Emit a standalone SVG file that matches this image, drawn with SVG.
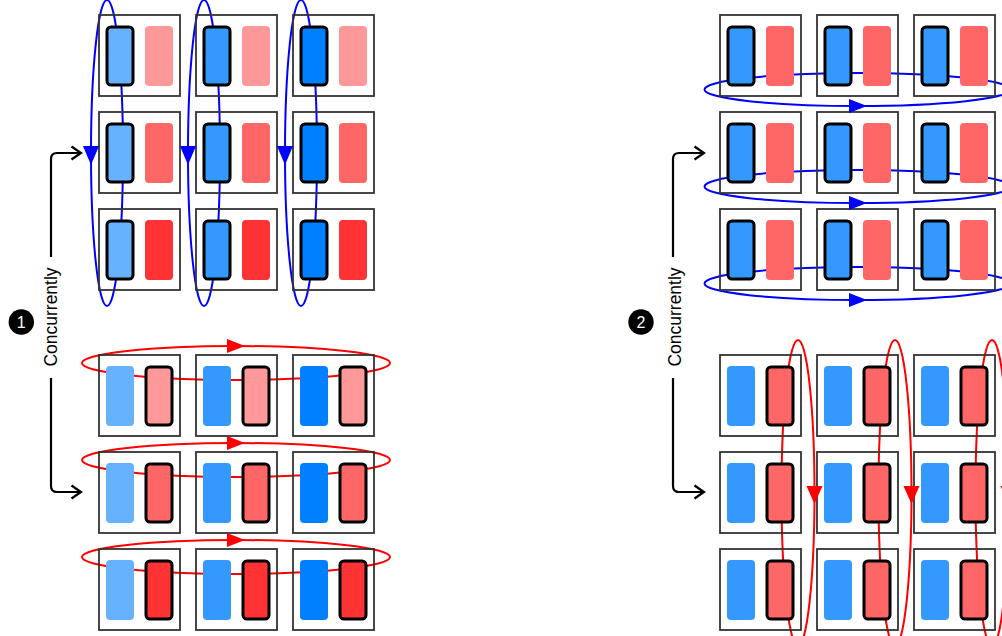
<svg xmlns="http://www.w3.org/2000/svg" width="1002" height="636" viewBox="0 0 1002 636">
<style>
.box{fill:none;stroke:#333;stroke-width:1.8}
.on{stroke:#000;stroke-width:3}
.b1{fill:#66B2FF}.b2{fill:#3399FF}.b3{fill:#007FFF}
.r1{fill:#FF9999}.r2{fill:#FF6666}.r3{fill:#FF3333}
.eb{fill:none;stroke:#0000FF;stroke-width:2}
.er{fill:none;stroke:#FF0000;stroke-width:2}
.ab{fill:#0000FF}.ar{fill:#FF0000}
.conn{fill:none;stroke:#000;stroke-width:2.2}
.lbl{font-family:"Liberation Sans",Arial,sans-serif;font-size:17.5px;fill:#000}
.num{font-family:"Liberation Sans",Arial,sans-serif;font-size:16px;fill:#fff}
</style>
<defs>
<marker id="open" markerWidth="14" markerHeight="16" refX="11" refY="8" orient="auto" markerUnits="userSpaceOnUse"><path d="M1.5,1.5 L11,8 L1.5,14.5" fill="none" stroke="#000" stroke-width="2.2"/></marker>
</defs>
<rect x="0" y="0" width="1002" height="636" fill="#fff"/>
<g id="connectors">
<ellipse class="eb" cx="107" cy="153" rx="16" ry="153"/>
<ellipse class="eb" cx="204" cy="153" rx="16" ry="153"/>
<ellipse class="eb" cx="301" cy="153" rx="16" ry="153"/>
<ellipse class="er" cx="236" cy="363" rx="154" ry="17"/>
<ellipse class="er" cx="236" cy="460" rx="154" ry="17"/>
<ellipse class="er" cx="236" cy="557" rx="154" ry="17"/>
<ellipse class="eb" cx="857.5" cy="89.5" rx="153" ry="16.5"/>
<ellipse class="eb" cx="857.5" cy="186.5" rx="153" ry="16.5"/>
<ellipse class="eb" cx="857.5" cy="283.5" rx="153" ry="16.5"/>
<ellipse class="er" cx="798" cy="493" rx="16.5" ry="153"/>
<ellipse class="er" cx="895" cy="493" rx="16.5" ry="153"/>
<ellipse class="er" cx="992" cy="493" rx="16.5" ry="153"/>
<path class="conn" d="M51,257 V159 Q51,153 57,153 H81" marker-end="url(#open)"/>
<path class="conn" d="M51,378 V486 Q51,492 57,492 H81" marker-end="url(#open)"/>
<path class="conn" d="M673,257 V159 Q673,153 679,153 H704" marker-end="url(#open)"/>
<path class="conn" d="M673,378 V486 Q673,492 679,492 H704" marker-end="url(#open)"/>
</g>
<g id="left-top">
<g id="lt-11"><rect class="box" x="99" y="15" width="81" height="81"/><rect class="b1 on" x="107" y="27" width="26" height="58" rx="4"/><rect class="r1" x="145" y="26" width="28" height="60" rx="4"/></g>
<g id="lt-12"><rect class="box" x="196" y="15" width="81" height="81"/><rect class="b2 on" x="204" y="27" width="26" height="58" rx="4"/><rect class="r1" x="242" y="26" width="28" height="60" rx="4"/></g>
<g id="lt-13"><rect class="box" x="293" y="15" width="81" height="81"/><rect class="b3 on" x="301" y="27" width="26" height="58" rx="4"/><rect class="r1" x="339" y="26" width="28" height="60" rx="4"/></g>
<g id="lt-21"><rect class="box" x="99" y="112" width="81" height="81"/><rect class="b1 on" x="107" y="124" width="26" height="58" rx="4"/><rect class="r2" x="145" y="123" width="28" height="60" rx="4"/></g>
<g id="lt-22"><rect class="box" x="196" y="112" width="81" height="81"/><rect class="b2 on" x="204" y="124" width="26" height="58" rx="4"/><rect class="r2" x="242" y="123" width="28" height="60" rx="4"/></g>
<g id="lt-23"><rect class="box" x="293" y="112" width="81" height="81"/><rect class="b3 on" x="301" y="124" width="26" height="58" rx="4"/><rect class="r2" x="339" y="123" width="28" height="60" rx="4"/></g>
<g id="lt-31"><rect class="box" x="99" y="209" width="81" height="81"/><rect class="b1 on" x="107" y="221" width="26" height="58" rx="4"/><rect class="r3" x="145" y="220" width="28" height="60" rx="4"/></g>
<g id="lt-32"><rect class="box" x="196" y="209" width="81" height="81"/><rect class="b2 on" x="204" y="221" width="26" height="58" rx="4"/><rect class="r3" x="242" y="220" width="28" height="60" rx="4"/></g>
<g id="lt-33"><rect class="box" x="293" y="209" width="81" height="81"/><rect class="b3 on" x="301" y="221" width="26" height="58" rx="4"/><rect class="r3" x="339" y="220" width="28" height="60" rx="4"/></g>
</g>
<g id="left-bottom">
<g id="lb-11"><rect class="box" x="99" y="355" width="81" height="81"/><rect class="b1" x="106" y="366" width="28" height="60" rx="4"/><rect class="r1 on" x="146" y="367" width="26" height="58" rx="4"/></g>
<g id="lb-12"><rect class="box" x="196" y="355" width="81" height="81"/><rect class="b2" x="203" y="366" width="28" height="60" rx="4"/><rect class="r1 on" x="243" y="367" width="26" height="58" rx="4"/></g>
<g id="lb-13"><rect class="box" x="293" y="355" width="81" height="81"/><rect class="b3" x="300" y="366" width="28" height="60" rx="4"/><rect class="r1 on" x="340" y="367" width="26" height="58" rx="4"/></g>
<g id="lb-21"><rect class="box" x="99" y="452" width="81" height="81"/><rect class="b1" x="106" y="463" width="28" height="60" rx="4"/><rect class="r2 on" x="146" y="464" width="26" height="58" rx="4"/></g>
<g id="lb-22"><rect class="box" x="196" y="452" width="81" height="81"/><rect class="b2" x="203" y="463" width="28" height="60" rx="4"/><rect class="r2 on" x="243" y="464" width="26" height="58" rx="4"/></g>
<g id="lb-23"><rect class="box" x="293" y="452" width="81" height="81"/><rect class="b3" x="300" y="463" width="28" height="60" rx="4"/><rect class="r2 on" x="340" y="464" width="26" height="58" rx="4"/></g>
<g id="lb-31"><rect class="box" x="99" y="549" width="81" height="81"/><rect class="b1" x="106" y="560" width="28" height="60" rx="4"/><rect class="r3 on" x="146" y="561" width="26" height="58" rx="4"/></g>
<g id="lb-32"><rect class="box" x="196" y="549" width="81" height="81"/><rect class="b2" x="203" y="560" width="28" height="60" rx="4"/><rect class="r3 on" x="243" y="561" width="26" height="58" rx="4"/></g>
<g id="lb-33"><rect class="box" x="293" y="549" width="81" height="81"/><rect class="b3" x="300" y="560" width="28" height="60" rx="4"/><rect class="r3 on" x="340" y="561" width="26" height="58" rx="4"/></g>
</g>
<g id="right-top">
<g id="rt-11"><rect class="box" x="720" y="15" width="81" height="81"/><rect class="b2 on" x="728" y="27" width="26" height="58" rx="4"/><rect class="r2" x="766" y="26" width="28" height="60" rx="4"/></g>
<g id="rt-12"><rect class="box" x="817" y="15" width="81" height="81"/><rect class="b2 on" x="825" y="27" width="26" height="58" rx="4"/><rect class="r2" x="863" y="26" width="28" height="60" rx="4"/></g>
<g id="rt-13"><rect class="box" x="914" y="15" width="81" height="81"/><rect class="b2 on" x="922" y="27" width="26" height="58" rx="4"/><rect class="r2" x="960" y="26" width="28" height="60" rx="4"/></g>
<g id="rt-21"><rect class="box" x="720" y="112" width="81" height="81"/><rect class="b2 on" x="728" y="124" width="26" height="58" rx="4"/><rect class="r2" x="766" y="123" width="28" height="60" rx="4"/></g>
<g id="rt-22"><rect class="box" x="817" y="112" width="81" height="81"/><rect class="b2 on" x="825" y="124" width="26" height="58" rx="4"/><rect class="r2" x="863" y="123" width="28" height="60" rx="4"/></g>
<g id="rt-23"><rect class="box" x="914" y="112" width="81" height="81"/><rect class="b2 on" x="922" y="124" width="26" height="58" rx="4"/><rect class="r2" x="960" y="123" width="28" height="60" rx="4"/></g>
<g id="rt-31"><rect class="box" x="720" y="209" width="81" height="81"/><rect class="b2 on" x="728" y="221" width="26" height="58" rx="4"/><rect class="r2" x="766" y="220" width="28" height="60" rx="4"/></g>
<g id="rt-32"><rect class="box" x="817" y="209" width="81" height="81"/><rect class="b2 on" x="825" y="221" width="26" height="58" rx="4"/><rect class="r2" x="863" y="220" width="28" height="60" rx="4"/></g>
<g id="rt-33"><rect class="box" x="914" y="209" width="81" height="81"/><rect class="b2 on" x="922" y="221" width="26" height="58" rx="4"/><rect class="r2" x="960" y="220" width="28" height="60" rx="4"/></g>
</g>
<g id="right-bottom">
<g id="rb-11"><rect class="box" x="720" y="355" width="81" height="81"/><rect class="b2" x="727" y="366" width="28" height="60" rx="4"/><rect class="r2 on" x="767" y="367" width="26" height="58" rx="4"/></g>
<g id="rb-12"><rect class="box" x="817" y="355" width="81" height="81"/><rect class="b2" x="824" y="366" width="28" height="60" rx="4"/><rect class="r2 on" x="864" y="367" width="26" height="58" rx="4"/></g>
<g id="rb-13"><rect class="box" x="914" y="355" width="81" height="81"/><rect class="b2" x="921" y="366" width="28" height="60" rx="4"/><rect class="r2 on" x="961" y="367" width="26" height="58" rx="4"/></g>
<g id="rb-21"><rect class="box" x="720" y="452" width="81" height="81"/><rect class="b2" x="727" y="463" width="28" height="60" rx="4"/><rect class="r2 on" x="767" y="464" width="26" height="58" rx="4"/></g>
<g id="rb-22"><rect class="box" x="817" y="452" width="81" height="81"/><rect class="b2" x="824" y="463" width="28" height="60" rx="4"/><rect class="r2 on" x="864" y="464" width="26" height="58" rx="4"/></g>
<g id="rb-23"><rect class="box" x="914" y="452" width="81" height="81"/><rect class="b2" x="921" y="463" width="28" height="60" rx="4"/><rect class="r2 on" x="961" y="464" width="26" height="58" rx="4"/></g>
<g id="rb-31"><rect class="box" x="720" y="549" width="81" height="81"/><rect class="b2" x="727" y="560" width="28" height="60" rx="4"/><rect class="r2 on" x="767" y="561" width="26" height="58" rx="4"/></g>
<g id="rb-32"><rect class="box" x="817" y="549" width="81" height="81"/><rect class="b2" x="824" y="560" width="28" height="60" rx="4"/><rect class="r2 on" x="864" y="561" width="26" height="58" rx="4"/></g>
<g id="rb-33"><rect class="box" x="914" y="549" width="81" height="81"/><rect class="b2" x="921" y="560" width="28" height="60" rx="4"/><rect class="r2 on" x="961" y="561" width="26" height="58" rx="4"/></g>
</g>
<g id="arrowheads">
<polygon class="ab" points="83,146 99,146 91,165"/>
<polygon class="ab" points="180,146 196,146 188,165"/>
<polygon class="ab" points="277,146 293,146 285,165"/>
<polygon class="ar" points="227,339 227,353 245,346"/>
<polygon class="ar" points="227,436 227,450 245,443"/>
<polygon class="ar" points="227,533 227,547 245,540"/>
<polygon class="ab" points="849,99 849,113 867,106"/>
<polygon class="ab" points="849,196 849,210 867,203"/>
<polygon class="ab" points="849,293 849,307 867,300"/>
<polygon class="ar" points="806.5,486 822.5,486 814.5,504"/>
<polygon class="ar" points="903.5,486 919.5,486 911.5,504"/>
<polygon class="ar" points="1000.5,486 1016.5,486 1008.5,504"/>
</g>
<g id="label-1">
<text class="lbl" transform="translate(57.3,317) rotate(-90)" text-anchor="middle">Concurrently</text>
<circle cx="21.3" cy="322" r="12.7" fill="#000"/>
<text class="num" x="21.3" y="327.8" text-anchor="middle">1</text>
</g>
<g id="label-2">
<text class="lbl" transform="translate(681,317) rotate(-90)" text-anchor="middle">Concurrently</text>
<circle cx="641" cy="322" r="12.7" fill="#000"/>
<text class="num" x="641" y="327.8" text-anchor="middle">2</text>
</g>
</svg>
